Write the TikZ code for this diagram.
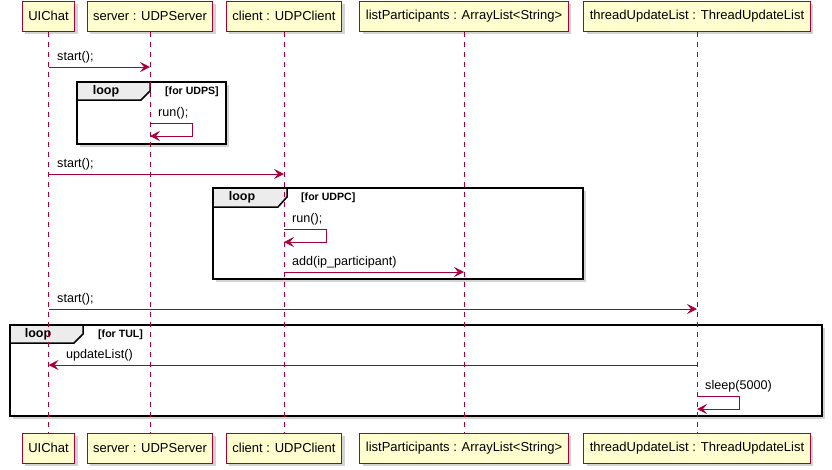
\documentclass[tikz,border=0pt]{standalone}
\usepackage{fontspec}
\setmainfont{Liberation Sans}
\usetikzlibrary{arrows.meta,positioning,shadows}
\definecolor{umlred}{HTML}{A80036}
\definecolor{umlfill}{HTML}{FEFECE}
\tikzset{
  part/.style={draw=umlred,fill=umlfill,line width=1pt,minimum height=30pt,inner xsep=6pt,
    font=\fontsize{13}{15}\selectfont,drop shadow={shadow xshift=3pt,shadow yshift=-3pt,opacity=0.35}},
  life/.style={draw=umlred,line width=0.8pt,dash pattern=on 5pt off 5pt},
  msg/.style={draw=umlred,line width=1pt,-{Stealth[length=10pt,width=10pt,inset=4pt]}},
  lbl/.style={font=\fontsize{12.6}{15}\selectfont,anchor=south west,inner sep=0pt},
  loopbox/.style={draw=black,line width=2pt,drop shadow={shadow xshift=3pt,shadow yshift=-3pt,opacity=0.35},fill=white},
  looptab/.style={draw=black,line width=1.5pt,fill=gray!15},
  loopword/.style={font=\bfseries\fontsize{12.5}{15}\selectfont,inner sep=0pt},
  guard/.style={font=\bfseries\fontsize{10.6}{12}\selectfont,anchor=west,inner sep=0pt}
}
\begin{document}
\begin{tikzpicture}[x=1pt,y=-1pt]
\useasboundingbox (0,0) rectangle (832,469);
% participants
\node[part] (uiT) at (48.5,16) {UIChat};
\node[part] (svT) at (150,16) {server : UDPServer};
\node[part] (clT) at (284,16) {client : UDPClient};
\node[part] (lpT) at (464,16) {listParticipants : ArrayList<String>};
\node[part] (tuT) at (697,16) {threadUpdateList : ThreadUpdateList};
\node[part] (uiB) at (48.5,448) {UIChat};
\node[part] (svB) at (150,448) {server : UDPServer};
\node[part] (clB) at (284,448) {client : UDPClient};
\node[part] (lpB) at (464,448) {listParticipants : ArrayList<String>};
\node[part] (tuB) at (697,448) {threadUpdateList : ThreadUpdateList};
% loop frames (behind lifelines)
\draw[loopbox] (77,82) rectangle (226,144);
\draw[looptab] (77,82) -- (150,82) -- (150,91) -- (141,100) -- (77,100) -- cycle;
\node[loopword] (lp1) at (106,91) {loop};
\node[guard] (gd1) at (165,91.5) {[for UDPS]};
\draw[loopbox] (213,188) rectangle (583,279);
\draw[looptab] (213,188) -- (287,188) -- (287,197) -- (278,207) -- (213,207) -- cycle;
\node[loopword] (lp2) at (242,197.5) {loop};
\node[guard] (gd2) at (301,198) {[for UDPC]};
\draw[loopbox] (10,325) rectangle (822,416);
\draw[looptab] (10,325) -- (83,325) -- (83,334) -- (74,343) -- (10,343) -- cycle;
\node[loopword] (lp3) at (38,334.5) {loop};
\node[guard] (gd3) at (98,335) {[for TUL]};
% lifelines
\draw[life] (uiT) -- (uiB);
\draw[life] (svT) -- (svB);
\draw[life] (clT) -- (clB);
\draw[life] (lpT) -- (lpB);
\draw[life] (tuT) -- (tuB);
% messages
\draw[msg] (uiT |- 0,67) -- (svT |- 0,67);
\node[lbl] (m1) at (57,63) {start();};
\draw[msg] (svT |- 0,123) -- ++(42,0) -- ++(0,13) -- (svT |- 0,136);
\node[lbl] (m2) at (158,119) {run();};
\draw[msg] (uiT |- 0,174) -- (clT |- 0,174);
\node[lbl] (m3) at (57,170) {start();};
\draw[msg] (clT |- 0,229) -- ++(42,0) -- ++(0,13) -- (clT |- 0,242);
\node[lbl] (m4) at (292,225) {run();};
\draw[msg] (clT |- 0,272) -- (lpT |- 0,272);
\node[lbl] (m5) at (292,268) {add(ip\_participant)};
\draw[msg] (uiT |- 0,309) -- (tuT |- 0,309);
\node[lbl] (m6) at (57,305) {start();};
\draw[msg] (tuT |- 0,365) -- (uiT |- 0,365);
\node[lbl] (m7) at (66,361) {updateList()};
\draw[msg] (tuT |- 0,396) -- ++(42,0) -- ++(0,13) -- (tuT |- 0,409);
\node[lbl] (m8) at (705,392) {sleep(5000)};
\end{tikzpicture}
\end{document}
